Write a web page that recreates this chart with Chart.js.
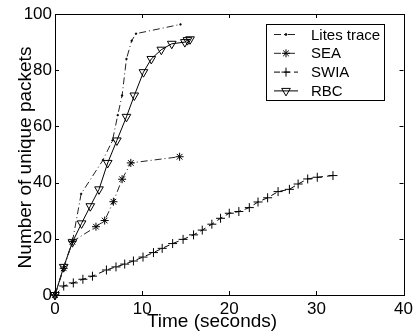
<!DOCTYPE html>
<html>
<head>
<meta charset="utf-8">
<script src="https://cdn.jsdelivr.net/npm/chart.js@4/dist/chart.umd.min.js"></script>
<style>
  html, body { margin: 0; padding: 0; background: #fff; }
  #wrap { width: 417px; height: 332px; }
</style>
</head>
<body>
<div id="wrap"><canvas id="packetsChart" width="417" height="332"></canvas></div>
<script>
const xTicks = [0, 10, 20, 30, 40];
const yTicks = [0, 20, 40, 60, 80, 100];

const litesTime = [0, 1, 2, 3, 5.5, 6.6, 7.2, 7.7, 8.2, 8.8, 9.3, 14.4];
const litesPackets = [0, 10, 19, 36, 48, 55, 64, 71, 84, 90.5, 93, 96.3];

const seaTime = [0, 1, 2, 4.7, 5.7, 6.7, 7.7, 8.7, 14.3];
const seaPackets = [0, 9.5, 19, 24.3, 26.5, 33.2, 41.2, 47, 49.2];

const swiaTime = [0, 1, 2.1, 3.2, 4.3, 5.9, 7.0, 8.0, 9.0, 10.1, 11.3, 12.3, 13.5, 14.7, 15.9,
  16.9, 18.0, 19.0, 20.0, 21.1, 22.3, 23.3, 24.4, 25.6, 26.9, 27.9, 29.0, 30.1, 31.9];
const swiaPackets = [0, 3.2, 4.3, 5.6, 6.7, 8.9, 10, 11, 12.1, 13.5, 15.1, 16.6, 18.3, 19.8, 21.4,
  23.1, 25.2, 27.3, 29.1, 29.7, 31.1, 33.1, 34.6, 36.8, 37.6, 39.5, 41.3, 41.9, 42.5];

const rbcTime = [0, 1, 2, 3.05, 4.05, 5.05, 6.05, 7.1, 8.2, 9.1, 10.15, 11.05, 12.2, 13.4, 14.9, 15.2, 15.5];
const rbcPackets = [0, 10, 18.8, 25.5, 31.6, 37.6, 47, 55, 63.4, 71, 79.3, 84, 87.3, 89.4, 90, 90.7, 91];

const seriesLabels = ['Lites trace', 'SEA', 'SWIA', 'RBC'];

const FONT = "'Liberation Sans', Arial, Helvetica, sans-serif";
const DASH_DOT = [7, 3, 1, 3];
const DASHED = [6, 4];

const toPoints = (xs, ys) => xs.map((x, i) => ({ x: x, y: ys[i] }));

function makeDataset(label, xs, ys, style) {
  return Object.assign({
    label: label,
    data: toPoints(xs, ys),
    borderColor: '#000',
    borderWidth: 1,
    pointBorderColor: '#000',
    pointBackgroundColor: 'rgba(0,0,0,0)',
    pointBorderWidth: 1,
    pointHoverRadius: 0,
    tension: 0,
    fill: false,
    clip: false,
  }, style);
}

const datasets = [
  makeDataset(seriesLabels[0], litesTime, litesPackets, {
    borderColor: '#222', borderDash: DASH_DOT, pointStyle: 'circle', pointRadius: 0.9,
    pointBorderWidth: 0.5, pointBackgroundColor: '#000',
  }),
  makeDataset(seriesLabels[1], seaTime, seaPackets, {
    borderColor: '#222', borderDash: DASH_DOT, pointStyle: 'star', pointRadius: 4,
  }),
  makeDataset(seriesLabels[2], swiaTime, swiaPackets, {
    borderDash: DASHED, pointStyle: 'cross', pointRadius: 4.5,
  }),
  makeDataset(seriesLabels[3], rbcTime, rbcPackets, {
    pointStyle: 'triangle', pointRadius: 5, pointRotation: 180,
  }),
];

// box, inward ticks, axis titles and the matlab-style legend
const framePlugin = {
  id: 'frame',
  afterDraw(chart) {
    const ctx = chart.ctx;
    const area = chart.chartArea;
    const xs = chart.scales.x;
    const ys = chart.scales.y;
    const tickLen = 4;

    ctx.save();
    ctx.strokeStyle = '#000';
    ctx.lineWidth = 1;
    ctx.setLineDash([]);
    ctx.strokeRect(Math.round(area.left) + 0.5, Math.round(area.top) + 0.5,
      Math.round(area.right - area.left), Math.round(area.bottom - area.top));

    ctx.beginPath();
    xs.ticks.forEach((t) => {
      const px = Math.round(xs.getPixelForValue(t.value)) + 0.5;
      ctx.moveTo(px, area.bottom); ctx.lineTo(px, area.bottom - tickLen);
      ctx.moveTo(px, area.top); ctx.lineTo(px, area.top + tickLen);
    });
    ys.ticks.forEach((t) => {
      const py = Math.round(ys.getPixelForValue(t.value)) + 0.5;
      ctx.moveTo(area.left, py); ctx.lineTo(area.left + tickLen, py);
      ctx.moveTo(area.right, py); ctx.lineTo(area.right - tickLen, py);
    });
    ctx.stroke();

    // axis titles
    ctx.fillStyle = '#000';
    ctx.font = '19px ' + FONT;
    ctx.textAlign = 'center';
    ctx.textBaseline = 'alphabetic';
    ctx.fillText('Time (seconds)', 212, 327);
    ctx.save();
    ctx.translate(30.5, 157.5);
    ctx.rotate(-Math.PI / 2);
    ctx.fillText('Number of unique packets', 0, 0);
    ctx.restore();

    // legend
    const box = { left: 266.5, top: 24.5, width: 118, height: 76 };
    ctx.fillStyle = '#fff';
    ctx.fillRect(box.left, box.top, box.width, box.height);
    ctx.strokeRect(box.left, box.top, box.width, box.height);
    ctx.font = '15px ' + FONT;
    ctx.textAlign = 'left';
    ctx.textBaseline = 'middle';
    chart.data.datasets.forEach((ds, i) => {
      const y = 34.5 + i * 18.8;
      ctx.strokeStyle = ds.borderColor;
      ctx.setLineDash(ds.borderDash || []);
      ctx.beginPath();
      ctx.moveTo(274, y);
      ctx.lineTo(298, y);
      ctx.stroke();
      ctx.setLineDash([]);
      ctx.strokeStyle = '#000';
      ctx.fillStyle = ds.pointBackgroundColor;
      Chart.helpers.drawPoint(ctx, {
        pointStyle: ds.pointStyle,
        radius: ds.pointRadius,
        rotation: ds.pointRotation || 0,
        borderWidth: ds.pointBorderWidth,
      }, 286, y);
      ctx.fillStyle = '#000';
      ctx.fillText(ds.label, 311, y + 1);
    });
    ctx.restore();
  },
};

new Chart(document.getElementById('packetsChart'), {
  type: 'line',
  data: { datasets: datasets },
  options: {
    responsive: false,
    animation: false,
    events: [],
    layout: {
      autoPadding: false,
      padding: { top: 14, right: 5, left: 0, bottom: 0 },
    },
    plugins: {
      legend: { display: false },
      tooltip: { enabled: false },
    },
    scales: {
      x: {
        type: 'linear',
        min: 0,
        max: 40,
        afterBuildTicks: (scale) => { scale.ticks = xTicks.map((v) => ({ value: v })); },
        afterFit: (scale) => { scale.height = 37; },
        grid: { display: false, drawTicks: false },
        border: { display: false },
        ticks: { padding: 4, color: '#000', font: { family: FONT, size: 17 }, maxRotation: 0 },
      },
      y: {
        type: 'linear',
        min: 0,
        max: 100,
        afterBuildTicks: (scale) => { scale.ticks = yTicks.map((v) => ({ value: v })); },
        afterFit: (scale) => { scale.width = 55; },
        grid: { display: false, drawTicks: false },
        border: { display: false },
        ticks: { padding: 3, color: '#000', font: { family: FONT, size: 17 } },
      },
    },
  },
  plugins: [framePlugin],
});
</script>
</body>
</html>
